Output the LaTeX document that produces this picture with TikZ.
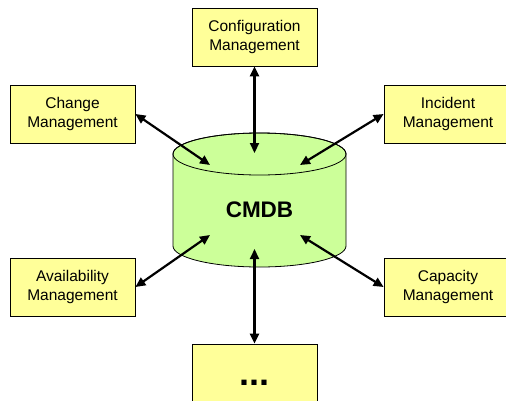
\documentclass[tikz,border=0pt]{standalone}
\usepackage{fontspec}
\setmainfont{Liberation Sans}
\usetikzlibrary{arrows.meta}
\definecolor{caixa}{HTML}{FFFF99}
\definecolor{cilindro}{HTML}{CCFF99}
\tikzset{
  processo/.style={draw=black, line width=0.8pt, fill=caixa, minimum width=125pt, minimum height=58pt,
    align=center, inner sep=0pt, font=\fontsize{15.5}{19}\selectfont},
  liga/.style={line width=2.2pt, {Triangle[length=10pt,width=9pt]}-{Triangle[length=10pt,width=9pt]}}
}
\begin{document}
\begin{tikzpicture}[x=1pt,y=-1pt]
		\useasboundingbox (0,0) rectangle (506,400);
		\clip (0,0) rectangle (506,400);
		
		% Base de dados (cilindro)
		\fill[cilindro] (173,154) -- (173,246) arc[start angle=180, end angle=0, x radius=86.5, y radius=21]
			-- (346,154) arc[start angle=0, end angle=-180, x radius=86.5, y radius=21] -- cycle;
		\draw[line width=0.8pt] (173,154) -- (173,246) arc[start angle=180, end angle=0, x radius=86.5, y radius=21]
			-- (346,154) arc[start angle=0, end angle=-180, x radius=86.5, y radius=21] -- cycle;
		\draw[line width=0.8pt] (259.5,154) ellipse [x radius=86.5, y radius=21]; % Tampa
		\node[font=\fontsize{22.5}{26}\selectfont\bfseries] (cmdb) at (259.5,210) {CMDB};
		
		% Pontos de chegada no cilindro
		\coordinate (cTop) at (254.5,153);
		\coordinate (cNW) at (210,165);
		\coordinate (cNE) at (300,165);
		\coordinate (cSW) at (210,235);
		\coordinate (cSE) at (300,235);
		\coordinate (cBot) at (254.5,249);
		
		% Processos
		\node[processo] (cfg) at (254.5,37) {Configuration\\Management};
		\node[processo] (chg) at (72.5,114) {Change\\Management};
		\node[processo, minimum width=128pt] (inc) at (448,114) {Incident\\Management};
		\node[processo] (avl) at (72.5,287) {Availability\\Management};
		\node[processo, minimum width=128pt] (cap) at (448,287) {Capacity\\Management};
		\node[processo, minimum height=78pt, font=\fontsize{36}{40}\selectfont\bfseries] (mais) at (254.5,383) {...};
		
		% Setas
		\draw[liga] (cfg.south) -- (cTop);
		\draw[liga] (chg.east) -- (cNW);
		\draw[liga] (inc.west) -- (cNE);
		\draw[liga] (avl.east) -- (cSW);
		\draw[liga] (cap.west) -- (cSE);
		\draw[liga] (mais.north) -- (cBot);
	\end{tikzpicture}
\end{document}
